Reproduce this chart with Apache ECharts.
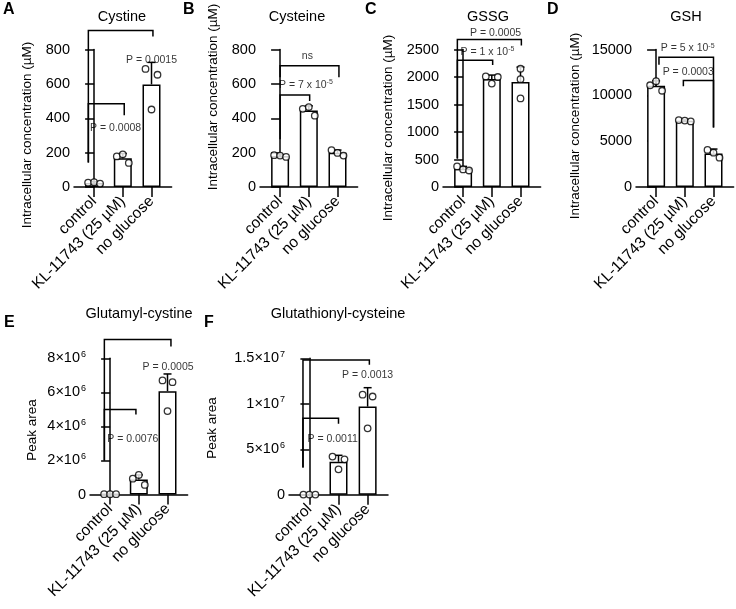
<!DOCTYPE html>
<html>
<head>
<meta charset="utf-8">
<script src="https://cdn.jsdelivr.net/npm/echarts@6/dist/echarts.min.js"></script>
<style>
  html, body { margin: 0; padding: 0; background: #fff; }
  #chart { width: 736px; height: 609px; }
</style>
</head>
<body>
<div id="chart"></div>
<script>
// ---------------- DATA ----------------
const categories = ['control', 'KL-11743 (25 µM)', 'no glucose'];

// A: Cystine (µM)
const cystineMean = [24, 168, 597];
const cystineErrTop = [30, 195, 725];
const cystinePoints = [[25, 28, 20], [178, 190, 140], [687, 451, 653]];
const cystineBrackets = [[-0.2, 2.05, 910, 143, 875], [-0.2, 1.05, 485, 143, 417]];
const cystineP = [[2.0, 740, 'P = 0.0015'], [0.75, 343, 'P = 0.0008']];

// B: Cysteine (µM)
const cysteineMean = [181, 445, 199];
const cysteineErrTop = [187, 472, 215];
const cysteinePoints = [[185, 183, 175], [455, 465, 415], [215, 198, 183]];
const cysteineBrackets = [[0, 2.05, 705, 638, 638], [0, 1.03, 536, 278, 501]];
const cysteineP = [[0.95, 762, 'ns'], [0.9, 593, 'P = 7 x 10{sup|-5}']];

// C: GSSG (µM)
const gssgMean = [332, 1963, 1907];
const gssgErrTop = [375, 2035, 2180];
const gssgPoints = [[375, 320, 300], [2010, 1880, 2000], [2150, 1960, 1610]];
const gssgBrackets = [[-0.2, 2.03, 2680, 518, 2575], [-0.2, 1.03, 2306, 518, 2220]];
const gssgP = [[1.13, 2800, 'P = 0.0005'], [0.85, 2450, 'P = 1 x 10{sup|-5}']];

// D: GSH (µM)
const gshMean = [11050, 7233, 3667];
const gshErrTop = [11580, 7310, 4140];
const gshPoints = [[11100, 11550, 10500], [7300, 7250, 7150], [4050, 3750, 3200]];
const gshBrackets = [[0.1, 2.0, 14150, 13350, 6500], [0.95, 2.0, 11630, 11000, 6500]];
const gshP = [[1.1, 15100, 'P = 5 x 10{sup|-5}'], [1.12, 12560, 'P = 0.0003']];

// E: Glutamyl-cystine (peak area)
const glutamylMean = [20000, 880000, 6070000];
const glutamylErrTop = [25000, 1150000, 7080000];
const glutamylPoints = [[20000, 20000, 20000], [930000, 1150000, 560000], [6700000, 4900000, 6600000]];
const glutamylBrackets = [[-0.2, 2.12, 9100000, 2000000, 8700000], [-0.2, 0.9, 5000000, 2000000, 4700000]];
const glutamylP = [[2.02, 7500000, 'P = 0.0005'], [0.79, 3240000, 'P = 0.0076']];

// F: Glutathionyl-cysteine (peak area)
const glutathionylMean = [20000, 3630000, 9690000];
const glutathionylErrTop = [25000, 4340000, 11770000];
const glutathionylPoints = [[20000, 20000, 20000], [4200000, 2800000, 3900000], [11000000, 7300000, 10800000]];
const glutathionylBrackets = [[-0.22, 2.06, 14800000, 3000000, 14300000], [-0.22, 1.0, 8400000, 3000000, 7800000]];
const glutathionylP = [[2.0, 13100000, 'P = 0.0013'], [0.8, 6150000, 'P = 0.0011']];

// Y-axis scales
const yMaxes = [800, 800, 2500, 15000, 8000000, 15000000];
const yIntervals = [200, 200, 500, 5000, 2000000, 5000000];

// ---------------- LAYOUT / STYLE ----------------
const FONT = "'Liberation Sans', Arial, Helvetica, sans-serif";
const JIT3 = [-6, 0, 6];
const panels = [
  { letter: 'A', title: 'Cystine', yName: 'Intracellular concentration (µM)',
    mean: cystineMean, err: cystineErrTop, pts: cystinePoints, br: cystineBrackets, p: cystineP,
    grid: { left: 74, top: 49.5, width: 97.6, height: 137.5 },
    jitter: [JIT3, JIT3, JIT3], letterPos: [3, 2], titlePos: [122, 17], yNamePos: [27, 135] },
  { letter: 'B', title: 'Cysteine', yName: 'Intracellular concentration (µM)',
    mean: cysteineMean, err: cysteineErrTop, pts: cysteinePoints, br: cysteineBrackets, p: cysteineP,
    grid: { left: 260, top: 49.5, width: 97.6, height: 137.5 },
    jitter: [JIT3, JIT3, JIT3], letterPos: [183, 2], titlePos: [297, 17], yNamePos: [213.5, 97] },
  { letter: 'C', title: 'GSSG', yName: 'Intracellular concentration (µM)',
    mean: gssgMean, err: gssgErrTop, pts: gssgPoints, br: gssgBrackets, p: gssgP,
    grid: { left: 443, top: 49.5, width: 97.6, height: 137.5 },
    jitter: [JIT3, JIT3, [0, 0, 0]], letterPos: [365, 2], titlePos: [488, 17], yNamePos: [388, 128] },
  { letter: 'D', title: 'GSH', yName: 'Intracellular concentration (µM)',
    mean: gshMean, err: gshErrTop, pts: gshPoints, br: gshBrackets, p: gshP,
    grid: { left: 636, top: 49.5, width: 97.6, height: 137.5 },
    jitter: [JIT3, JIT3, JIT3], letterPos: [547, 2], titlePos: [686, 17], yNamePos: [575, 126] },
  { letter: 'E', title: 'Glutamyl-cystine', yName: 'Peak area',
    mean: glutamylMean, err: glutamylErrTop, pts: glutamylPoints, br: glutamylBrackets, p: glutamylP,
    grid: { left: 90, top: 358.3, width: 97.6, height: 136.2 },
    jitter: [JIT3, JIT3, [-5, 0, 5]], letterPos: [4, 315], titlePos: [139, 314], yNamePos: [32, 430] },
  { letter: 'F', title: 'Glutathionyl-cysteine', yName: 'Peak area',
    mean: glutathionylMean, err: glutathionylErrTop, pts: glutathionylPoints, br: glutathionylBrackets, p: glutathionylP,
    grid: { left: 289, top: 358.3, width: 99, height: 136.5 },
    jitter: [JIT3, JIT3, [-5, 0, 5]], letterPos: [204, 315], titlePos: [338, 314], yNamePos: [212, 428] }
];

const black = '#000';
const lineW = 1.5;
const sci = (v) => {
  if (v === 0) return '0';
  const e = Math.floor(Math.log10(v) + 1e-9);
  const m = +(v / Math.pow(10, e)).toFixed(1);
  return m + '×10{sup|' + e + '}';
};

const grids = [], xAxes = [], yAxes = [], series = [], graphics = [];

panels.forEach((pn, i) => {
  grids.push(Object.assign({}, pn.grid));
  xAxes.push({
    gridIndex: i, type: 'value', min: -0.7, max: 2.7,
    axisLine: { show: true, onZero: false, lineStyle: { color: black, width: lineW } },
    axisTick: { show: true, customValues: [0, 1, 2], length: 10, lineStyle: { color: black, width: lineW } },
    axisLabel: { show: true, customValues: [0, 1, 2], rotate: 45, margin: 12, color: black,
      fontSize: 15.5, fontFamily: FONT, formatter: (v) => categories[Math.round(v)] },
    splitLine: { show: false }
  });
  const isSci = i >= 4;
  yAxes.push({
    gridIndex: i, type: 'value', min: 0, max: yMaxes[i], interval: yIntervals[i],
    axisLine: { show: true, lineStyle: { color: black, width: lineW } },
    axisTick: { show: true, length: 9, lineStyle: { color: black, width: lineW } },
    axisLabel: { color: black, fontSize: 14.5, fontFamily: FONT, margin: 4,
      formatter: isSci ? sci : (v) => String(v),
      rich: { sup: { fontSize: 9, color: black, fontFamily: FONT, verticalAlign: 'top', padding: [0, 0, 8, 1] } } },
    splitLine: { show: false }
  });

  // bars
  series.push({
    type: 'bar', xAxisIndex: i, yAxisIndex: i, barWidth: 18, z: 2,
    data: pn.mean.map((m, k) => [k, m]),
    itemStyle: { color: '#fff', borderColor: black, borderWidth: lineW },
    silent: true
  });
  // error bars (upper whisker)
  series.push({
    type: 'custom', xAxisIndex: i, yAxisIndex: i, z: 3, silent: true, clip: false,
    data: pn.mean.map((m, k) => [k, m, pn.err[k]]),
    renderItem: (params, api) => {
      const p0 = api.coord([api.value(0), api.value(1)]);
      const p1 = api.coord([api.value(0), api.value(2)]);
      const st = { stroke: black, lineWidth: lineW, fill: null };
      return { type: 'group', children: [
        { type: 'line', shape: { x1: p0[0], y1: p0[1], x2: p1[0], y2: p1[1] }, style: st },
        { type: 'line', shape: { x1: p1[0] - 4, y1: p1[1], x2: p1[0] + 4, y2: p1[1] }, style: st }
      ] };
    }
  });
  // replicate points
  const ptData = [];
  pn.pts.forEach((arr, k) => arr.forEach((v, j) => ptData.push({ value: [k, v], symbolOffset: [pn.jitter[k][j], 0] })));
  series.push({
    type: 'scatter', xAxisIndex: i, yAxisIndex: i, z: 4, silent: true, clip: false,
    symbol: 'circle', symbolSize: 6.5, data: ptData,
    itemStyle: { color: '#fff', borderColor: black, borderWidth: 1.3 }
  });
  // significance brackets
  series.push({
    type: 'custom', xAxisIndex: i, yAxisIndex: i, z: 5, silent: true, clip: false,
    data: pn.br,
    renderItem: (params, api) => {
      const x1 = api.value(0), x2 = api.value(1), yt = api.value(2), yl = api.value(3), yr = api.value(4);
      const pts = [api.coord([x1, yl]), api.coord([x1, yt]), api.coord([x2, yt]), api.coord([x2, yr])];
      return { type: 'polyline', shape: { points: pts }, style: { stroke: black, lineWidth: lineW, fill: null } };
    }
  });
  // P-value labels
  series.push({
    type: 'scatter', xAxisIndex: i, yAxisIndex: i, z: 6, silent: true, clip: false,
    symbolSize: 1, itemStyle: { color: 'rgba(0,0,0,0)' },
    data: pn.p.map(d => ({ value: [d[0], d[1]], name: d[2] })),
    label: { show: true, position: 'inside', color: black, fontSize: 10.5, fontFamily: FONT,
      formatter: (p) => p.name,
      rich: { sup: { fontSize: 7, color: black, fontFamily: FONT, verticalAlign: 'top', padding: [0, 0, 6, 0] } } }
  });

  // panel letter, title, y-axis name
  graphics.push({ type: 'text', x: pn.letterPos[0], y: pn.letterPos[1],
    style: { text: pn.letter, fontSize: 16, fontWeight: 'bold', fontFamily: FONT, fill: black } });
  graphics.push({ type: 'text', x: pn.titlePos[0], y: pn.titlePos[1],
    style: { text: pn.title, fontSize: 14.5, fontFamily: FONT, fill: black, textAlign: 'center', textVerticalAlign: 'middle' } });
  graphics.push({ type: 'text', x: pn.yNamePos[0], y: pn.yNamePos[1], rotation: Math.PI / 2,
    style: { text: pn.yName, fontSize: 13.5, fontFamily: FONT, fill: black, textAlign: 'center', textVerticalAlign: 'middle' } });
});

const chart = echarts.init(document.getElementById('chart'), null, { renderer: 'canvas' });
chart.setOption({
  animation: false,
  backgroundColor: '#fff',
  grid: grids, xAxis: xAxes, yAxis: yAxes, series: series, graphic: graphics
});
</script>
</body>
</html>
